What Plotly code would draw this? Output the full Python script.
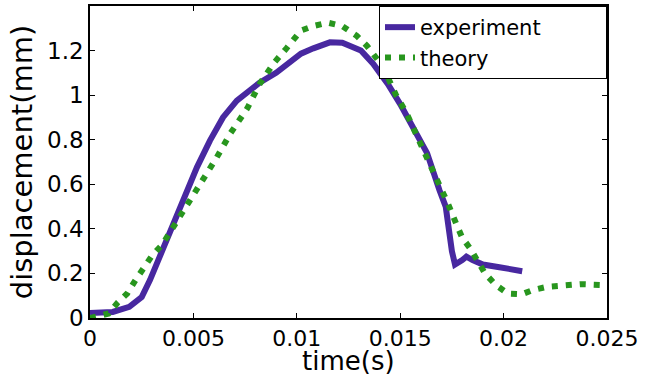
import plotly.graph_objects as go

# experiment (purple solid)
exp_t = [0.0, 0.0006, 0.0011, 0.0019, 0.0025, 0.0029, 0.0033, 0.00372, 0.0045, 0.00517,
         0.0058, 0.00643, 0.0071, 0.0076, 0.0082, 0.0090, 0.0102, 0.0108, 0.0116, 0.0122,
         0.0131, 0.0137, 0.0144, 0.0150, 0.0156, 0.0163, 0.0169, 0.0172, 0.0175, 0.01765,
         0.0180, 0.0182, 0.0185, 0.0190, 0.0198, 0.0209]
exp_y = [0.022, 0.022, 0.027, 0.05, 0.094, 0.17, 0.26, 0.362, 0.528, 0.676,
         0.796, 0.90, 0.975, 1.01, 1.056, 1.10, 1.186, 1.21, 1.237, 1.235,
         1.20, 1.14, 1.05, 0.96, 0.855, 0.74, 0.573, 0.50, 0.30, 0.24,
         0.26, 0.275, 0.26, 0.24, 0.228, 0.21]

# theory (green dotted)
th_t = [0.0, 0.0009, 0.00135, 0.0018, 0.0022, 0.0026, 0.0030, 0.0035, 0.00387, 0.0047,
        0.0054, 0.0061, 0.0068, 0.0076, 0.0082, 0.0089, 0.0095, 0.0102, 0.0108, 0.0115,
        0.0122, 0.0129, 0.0134, 0.0139, 0.0144, 0.0148, 0.0153, 0.0158, 0.0163, 0.0168,
        0.0173, 0.0177, 0.0180, 0.0184, 0.0187, 0.0191, 0.0196, 0.0202, 0.0209, 0.0214,
        0.0221, 0.0229, 0.0237, 0.0248]
th_y = [0.0, 0.02, 0.07, 0.11, 0.17, 0.23, 0.28, 0.33, 0.385, 0.50,
        0.60, 0.716, 0.83, 0.94, 1.05, 1.145, 1.21, 1.29, 1.31, 1.325,
        1.31, 1.266, 1.22, 1.16, 1.08, 1.0, 0.92, 0.82, 0.73, 0.62,
        0.515, 0.425, 0.36, 0.31, 0.26, 0.20, 0.15, 0.11, 0.107, 0.125,
        0.14, 0.148, 0.152, 0.148]

x_ticks = [0, 0.005, 0.01, 0.015, 0.02, 0.025]
x_labels = ["0", "0.005", "0.01", "0.015", "0.02", "0.025"]
y_ticks = [0, 0.2, 0.4, 0.6, 0.8, 1.0, 1.2]
y_labels = ["0", "0.2", "0.4", "0.6", "0.8", "1", "1.2"]
series_names = ["experiment", "theory"]
x_title = "time(s)"
y_title = "displacement(mm)"

pad = "\u00a0" * 9  # widen legend box like the reference

fig = go.Figure()
fig.add_trace(go.Scatter(x=exp_t, y=exp_y, mode="lines", name=series_names[0] + pad,
                         line=dict(color="rgb(72,40,160)", width=6)))
fig.add_trace(go.Scatter(x=th_t, y=th_y, mode="lines", name=series_names[1],
                         line=dict(color="rgb(40,150,30)", width=6, dash="6px,8px")))

font_family = "DejaVu Sans, sans-serif"
axis_common = dict(showline=True, linecolor="black", linewidth=1.5, mirror="ticks",
                   ticks="inside", ticklen=5, tickcolor="black", showgrid=False,
                   zeroline=False, automargin=False)

fig.update_layout(
    width=648, height=377,
    margin=dict(l=90, r=41, t=6, b=59),
    paper_bgcolor="white", plot_bgcolor="white",
    font=dict(family=font_family, color="black"),
    xaxis=dict(range=[0, 0.025], tickvals=x_ticks, ticktext=x_labels,
               tickfont=dict(size=22, color="black", family=font_family), **axis_common),
    yaxis=dict(range=[0, 1.4], tickvals=y_ticks, ticktext=y_labels,
               tickfont=dict(size=23, color="black", family=font_family), **axis_common),
    legend=dict(x=1, y=1, xanchor="right", yanchor="top", bgcolor="white",
                bordercolor="black", borderwidth=1, font=dict(size=21),
                tracegroupgap=0, itemwidth=30),
    showlegend=True,
    annotations=[
        dict(text=x_title, xref="paper", yref="paper", x=0.5, y=-0.139,
             xanchor="center", yanchor="middle", showarrow=False,
             font=dict(size=26, color="black", family=font_family)),
        dict(text=y_title, xref="paper", yref="paper", x=-0.131, y=0.5,
             xanchor="center", yanchor="middle", textangle=-90, showarrow=False,
             font=dict(size=29, color="black", family=font_family)),
    ],
)

fig.write_html("out.html", config={"displayModeBar": False},
               post_script="document.body.style.margin='0';document.body.style.padding='0';")
